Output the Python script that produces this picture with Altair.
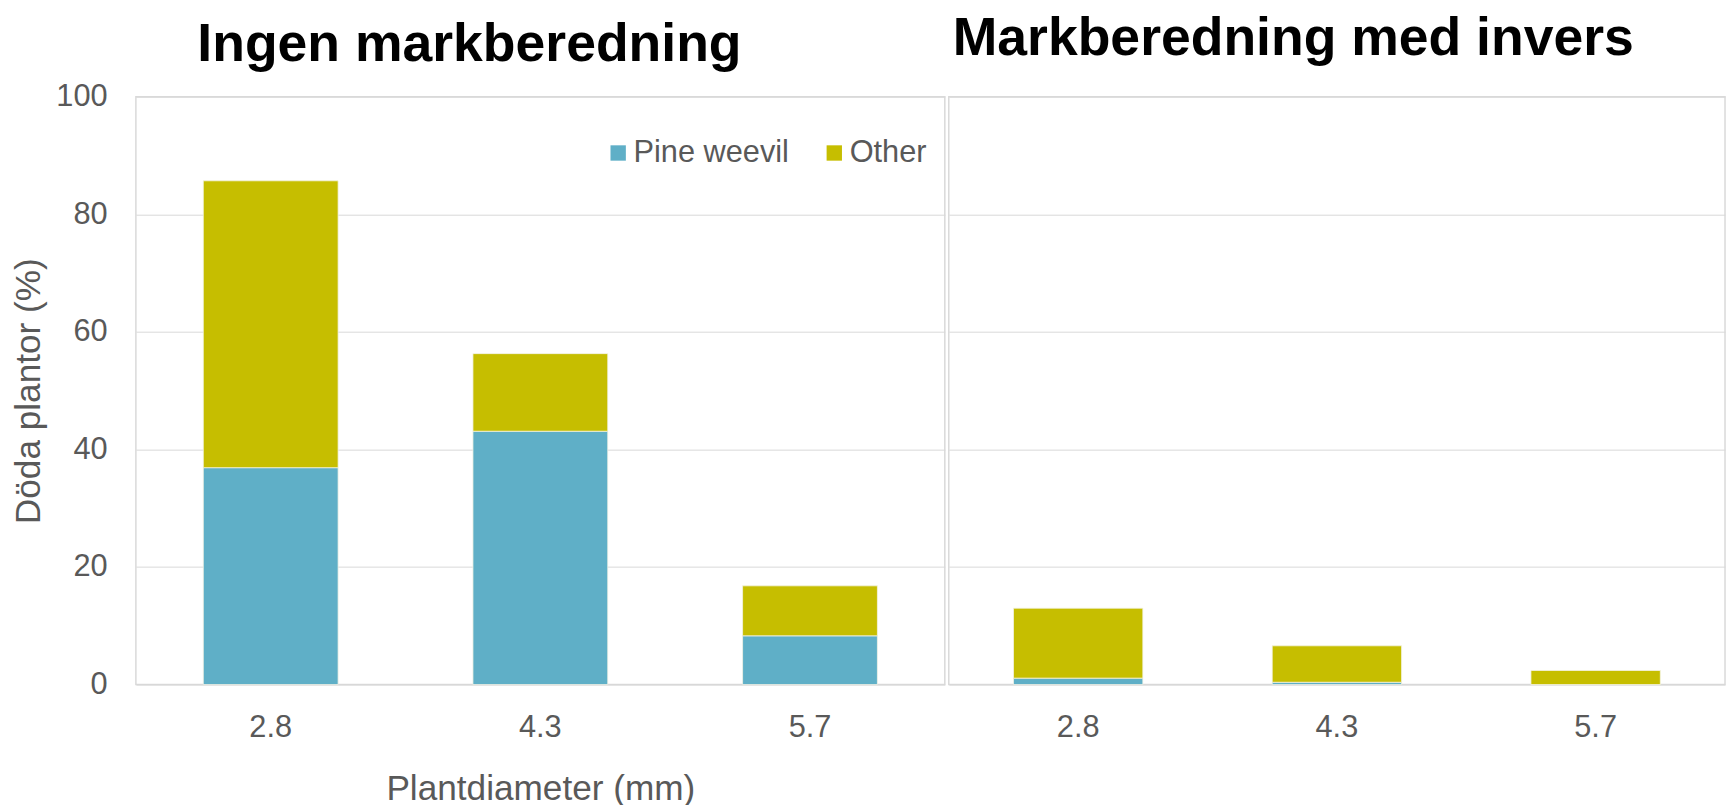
import altair as alt
import pandas as pd

diameters = ["2.8", "4.3", "5.7"]
causes = ["Pine weevil", "Other"]
pine_none = [36.9, 43.1, 8.3]
other_none = [48.8, 13.2, 8.5]
pine_inv = [1.1, 0.4, 0.0]
other_inv = [11.9, 6.2, 2.4]
colors = ["#5FAFC7", "#C6BE00"]

FONT = "Liberation Sans"
GRAY = "#595959"
LINE = "#D9D9D9"


def frame(pine, other):
    rows = []
    for d, p, o in zip(diameters, pine, other):
        rows.append({"diam": d, "cause": causes[0], "val": p, "ord": 0})
        rows.append({"diam": d, "cause": causes[1], "val": o, "ord": 1})
    return pd.DataFrame(rows)


def panel(df, title, width, dx, offset, left_axis, show_legend, xtitle):
    if left_axis:
        yax = alt.Axis(title="Döda plantor (%)", values=[0, 20, 40, 60, 80, 100],
                       labelPadding=29, titlePadding=9, ticks=False, domain=False,
                       grid=True, gridColor=LINE)
    else:
        yax = alt.Axis(title=None, values=[0, 20, 40, 60, 80, 100], labels=False,
                       labelPadding=0, ticks=False, domain=False, grid=True, gridColor=LINE)
    if xtitle:
        xax = alt.Axis(title="Plantdiameter (mm)", labelAngle=0, labelPadding=28,
                       titlePadding=30, ticks=False, domain=False, grid=False)
    else:
        xax = alt.Axis(title=None, labelAngle=0, labelPadding=28,
                       ticks=False, domain=False, grid=False)
    if show_legend:
        leg = alt.Legend(title=None, orient="none", direction="horizontal",
                         legendX=471, legendY=41, symbolType="square", symbolSize=240,
                         symbolStrokeWidth=0, labelFontSize=31, labelColor=GRAY,
                         labelFont=FONT, labelOffset=0, columnPadding=30, padding=0)
        color = alt.Color("cause:N", scale=alt.Scale(domain=causes, range=colors), legend=leg)
    else:
        color = alt.Color("cause:N", scale=alt.Scale(domain=causes, range=colors), legend=None)
    return alt.Chart(df).mark_bar(stroke="#F4F4E6", strokeWidth=0.8).encode(
        x=alt.X("diam:N", sort=diameters,
                scale=alt.Scale(paddingInner=0.5, paddingOuter=0.25), axis=xax),
        y=alt.Y("val:Q", stack="zero", scale=alt.Scale(domain=[0, 100], nice=False), axis=yax),
        color=color,
        order=alt.Order("ord:Q"),
    ).properties(
        width=width, height=593,
        title=alt.Title(title, anchor="start", frame="group", dx=dx, offset=offset,
                        fontSize=54, fontWeight="bold", color="black", font=FONT),
    )


left = panel(frame(pine_none, other_none), "Ingen markberedning", 816, 62, 9, True, True, True)
right = panel(frame(pine_inv, other_inv), "Markberedning med invers", 783, 4, 31, False, False, False)

chart = alt.hconcat(left, right, spacing=2).resolve_scale(
    color="independent"
).resolve_legend(color="independent").properties(
    padding={"left": 3, "top": 0, "right": 0, "bottom": 0}
).configure_view(
    stroke=LINE, strokeWidth=1.5
).configure_axis(
    labelFont=FONT, titleFont=FONT, labelFontSize=31, titleFontSize=35.5,
    labelColor=GRAY, titleColor=GRAY, titleFontWeight="normal"
)

chart.save("out.html", embed_options={"renderer": "svg", "actions": False})
